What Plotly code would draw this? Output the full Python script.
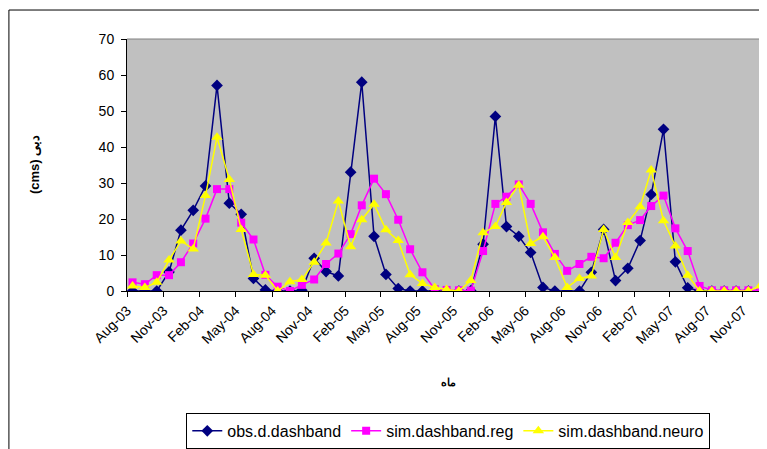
import pandas as pd
import plotly.graph_objects as go

months = [d.strftime("%Y-%m-15") for d in pd.date_range("2003-08-01", periods=53, freq="MS")]

obs = [0, 0, 0, 5.3, 16.9, 22.4, 29.2, 57.1, 24.4, 21.3, 3.5, 0.3, 0, 0, 0.2, 9.1, 5.4, 4.2,
       33.0, 58.0, 15.2, 4.6, 0.7, 0, 0, 0, 0, 0, 0.1, 13.0, 48.5, 17.9, 15.2, 10.7, 1.0, 0,
       0, 0, 5.2, 17.1, 2.9, 6.3, 14.0, 26.8, 44.9, 8.1, 0.9, 0, 0, 0, 0, 0, 0]
reg = [2.4, 1.9, 4.4, 4.4, 8.0, 13.2, 20.1, 28.3, 28.3, 19.0, 14.3, 4.5, 1.2, 0, 1.7, 3.2,
       7.5, 10.4, 15.8, 23.8, 31.2, 26.9, 19.8, 11.6, 5.2, 0.5, 0.3, 0.2, 0.1, 11.1, 24.2,
       26.2, 29.6, 24.2, 16.3, 10.3, 5.6, 7.5, 9.5, 9.1, 13.4, 18.3, 19.7, 23.6, 26.5, 17.4,
       11.1, 1.4, 0.2, 0.2, 0.2, 0.2, 0.2]
neuro = [1.4, 1.0, 2.4, 8.6, 13.9, 11.7, 26.5, 42.7, 31.0, 17.1, 4.6, 4.4, 0, 2.6, 3.2, 8.0,
         13.3, 25.0, 12.3, 19.8, 24.1, 17.0, 14.0, 4.5, 2.1, 1.0, 0.4, 0, 2.9, 16.2, 17.9,
         24.6, 29.4, 13.2, 15.1, 9.3, 1.0, 3.5, 4.2, 17.1, 9.3, 19.0, 23.4, 33.6, 19.5, 12.5,
         4.4, 0, 0, 0, 0, 0, 1.4]

tick_dates = [d.strftime("%Y-%m-%d") for d in pd.date_range("2003-08-01", "2007-11-01", freq="3MS")]
tick_labels = ["Aug-03", "Nov-03", "Feb-04", "May-04", "Aug-04", "Nov-04", "Feb-05", "May-05",
               "Aug-05", "Nov-05", "Feb-06", "May-06", "Aug-06", "Nov-06", "Feb-07", "May-07",
               "Aug-07", "Nov-07"]

FONT = "Liberation Sans, Arial, sans-serif"

fig = go.Figure()
fig.add_trace(go.Scatter(x=months, y=obs, name="obs.d.dashband", mode="lines+markers",
                         line=dict(color="#000080", width=1.5),
                         marker=dict(symbol="diamond", size=9, color="#000080")))
fig.add_trace(go.Scatter(x=months, y=reg, name="sim.dashband.reg", mode="lines+markers",
                         line=dict(color="#FF00FF", width=1.5),
                         marker=dict(symbol="square", size=8, color="#FF00FF")))
fig.add_trace(go.Scatter(x=months, y=neuro, name="sim.dashband.neuro", mode="lines+markers",
                         line=dict(color="#FFFF00", width=1.5),
                         marker=dict(symbol="triangle-up", size=10, color="#FFFF00")))

fig.update_layout(
    width=759, height=441,
    margin=dict(l=119, r=0, t=31, b=158),
    paper_bgcolor="white", plot_bgcolor="#C0C0C0",
    font=dict(family=FONT, size=14, color="black"),
    showlegend=True,
    legend=dict(orientation="h", x=0.502, xanchor="center", y=-0.484, yanchor="top",
                bordercolor="#000000", borderwidth=1, bgcolor="white",
                font=dict(family=FONT, size=16), itemwidth=30, tracegroupgap=0),
    xaxis=dict(type="date", range=["2003-08-01", "2008-01-01"], tickmode="array",
               tickvals=tick_dates, ticktext=tick_labels, tickangle=-45,
               ticks="outside", ticklen=5, tickcolor="black", showgrid=False,
               showline=True, linecolor="black", linewidth=1, zeroline=False,
               tickfont=dict(family=FONT, size=14)),
    yaxis=dict(range=[0, 70], tickmode="linear", tick0=0, dtick=10,
               ticks="outside", ticklen=5, tickcolor="black", showgrid=False,
               showline=True, linecolor="black", linewidth=1, zeroline=False,
               ticklabelstandoff=4, tickfont=dict(family=FONT, size=14)),
    shapes=[
        dict(type="line", xref="paper", yref="paper", x0=0, x1=1, y0=1, y1=1,
             line=dict(color="#808080", width=1)),
        dict(type="rect", xref="paper", yref="paper", x0=-0.1845, x1=1.1, y0=-0.8, y1=1.115,
             line=dict(color="black", width=1), fillcolor="rgba(0,0,0,0)", layer="below"),
    ],
    annotations=[
        dict(text="<b>ماه</b>", xref="paper", yref="paper", x=0.503, y=-0.392,
             showarrow=False, font=dict(family=FONT, size=11)),
        dict(text="<b>(cms) دبی</b>", xref="paper", yref="paper", x=-0.16, y=0.5,
             textangle=-90, showarrow=False, font=dict(family=FONT, size=13)),
    ],
)

fig.write_html("out.html")
